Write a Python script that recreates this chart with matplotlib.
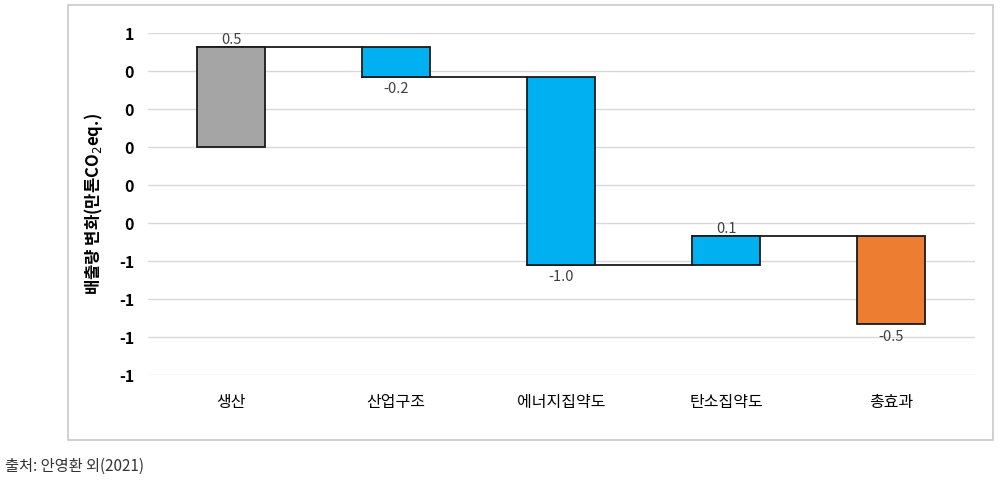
import numpy as np
import matplotlib.pyplot as plt
from matplotlib.ticker import FuncFormatter
from matplotlib.patches import Rectangle

plt.rcParams['font.family'] = ['Noto Sans CJK KR', 'DejaVu Sans']

categories = ['생산', '산업구조', '에너지집약도', '탄소집약도', '총효과']
deltas = [0.524, -0.154, -0.989, 0.153, -0.466]
value_labels = ['0.5', '-0.2', '-1.0', '0.1', '-0.5']
colors = ['#A5A5A5', '#00B0F0', '#00B0F0', '#00B0F0', '#ED7D31']
y_ticks = [0.6, 0.4, 0.2, 0.0, -0.2, -0.4, -0.6, -0.8, -1.0, -1.2]

ends = np.cumsum(deltas)
starts = ends - np.array(deltas)
x = np.arange(len(categories))
width = 0.41

fig = plt.figure(figsize=(10.08, 4.88), dpi=100)
fig.patches.append(Rectangle((68 / 1008, 1 - 440 / 488), 925 / 1008, 435 / 488,
                             transform=fig.transFigure, fill=False,
                             edgecolor='#C8C8C8', linewidth=1.2))
ax = fig.add_axes([148 / 1008, 1 - 375 / 488, 827 / 1008, 342 / 488])

ax.bar(x, deltas, bottom=starts, width=width, color=colors,
       edgecolor='#1a1a1a', linewidth=1.3, zorder=3)

# connector lines between bars
for i in range(len(x) - 1):
    ax.plot([x[i] - width / 2, x[i + 1] - width / 2], [ends[i], ends[i]],
            color='#1a1a1a', linewidth=1.3, zorder=2)

for i, lab in enumerate(value_labels):
    if deltas[i] >= 0:
        ax.annotate(lab, (x[i], ends[i]), xytext=(0, 5), textcoords='offset points',
                    ha='center', va='center', fontsize=10.5, color='#404040', zorder=4)
    else:
        ax.annotate(lab, (x[i], ends[i]), xytext=(0, -9), textcoords='offset points',
                    ha='center', va='center', fontsize=10.5, color='#404040', zorder=4)

ax.set_ylim(-1.2, 0.6)
ax.set_xlim(-0.503, 4.509)
ax.set_yticks(y_ticks)
ax.yaxis.set_major_formatter(FuncFormatter(lambda v, p: '%d' % int(round(v))))
ax.grid(axis='y', color='#D9D9D9', linewidth=1.0, zorder=0)
ax.set_xticks(x)
ax.set_xticklabels(categories, fontsize=11.5)
ax.tick_params(axis='x', length=0, pad=14)
ax.tick_params(axis='y', length=0, pad=10, labelsize=11.5)
for lab in ax.get_yticklabels():
    lab.set_fontweight('bold')
for s in ax.spines.values():
    s.set_visible(False)

ax.set_ylabel('배출량 변화(만톤CO$_2$eq.)', fontsize=12, fontweight='bold',
              labelpad=10)

fig.text(5 / 1008, 1 - 466 / 488, '출처: 안영환 외(2021)', fontsize=11,
         color='#333333', va='center', ha='left')

fig.savefig('out.png', dpi=100)
